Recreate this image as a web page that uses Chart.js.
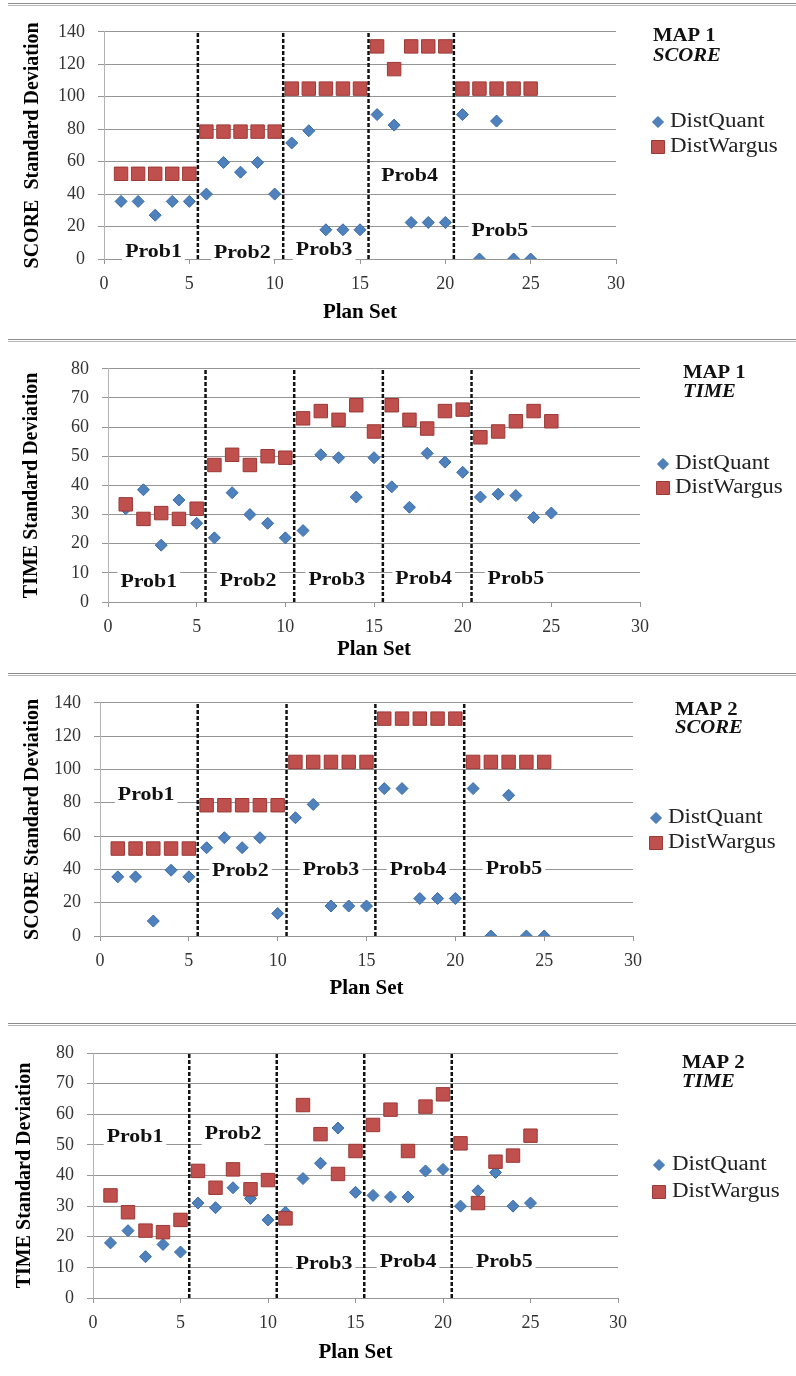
<!DOCTYPE html>
<html>
<head>
<meta charset="utf-8">
<title>Standard Deviation per Plan Set</title>
<script src="https://cdn.jsdelivr.net/npm/chart.js@4.4.0/dist/chart.umd.min.js"></script>
<style>
  body { margin: 0; background: #fff; }
  #page { position: relative; width: 796px; height: 1376px; overflow: hidden; background: #fff; }
  .sep { position: absolute; left: 8px; right: 0; height: 1px; border-top: 1px solid #8c8c8c; border-bottom: 1px solid #b4b4b4; }
  .panel { position: absolute; left: 0; width: 796px; }
  canvas { display: block; }
</style>
</head>
<body>
<div id="page">
  <div class="sep" style="top:3px"></div>
  <div class="panel" style="top:8px"><canvas id="chart1" width="796" height="331"></canvas></div>
  <div class="sep" style="top:339px"></div>
  <div class="panel" style="top:345px"><canvas id="chart2" width="796" height="328"></canvas></div>
  <div class="sep" style="top:673px"></div>
  <div class="panel" style="top:679px"><canvas id="chart3" width="796" height="344"></canvas></div>
  <div class="sep" style="top:1023px"></div>
  <div class="panel" style="top:1029px"><canvas id="chart4" width="796" height="347"></canvas></div>
</div>
<script>
// data
const planSet = [1, 2, 3, 4, 5, 6, 7, 8, 9, 10, 11, 12, 13, 14, 15, 16, 17, 18, 19, 20, 21, 22, 23, 24, 25]
const dividers = [5.5, 10.5, 15.5, 20.5]
const probNames = ['Prob1', 'Prob2', 'Prob3', 'Prob4', 'Prob5']
const seriesNames = ['DistQuant', 'DistWargus']
const xTicks = [0, 5, 10, 15, 20, 25, 30]
const scoreTicks = [0, 20, 40, 60, 80, 100, 120, 140]
const timeTicks = [0, 10, 20, 30, 40, 50, 60, 70, 80]

// MAP 1 SCORE
const quantScore1 = [35.5, 35.5, 27, 35.5, 35.5, 40, 59.5, 53.5, 59.5, 40, 71.5, 79, 18, 18, 18, 89, 82.5, 22.5, 22.5, 22.5, 89, 0, 85, 0, 0]
const wargusScore1 = [52.5, 52.5, 52.5, 52.5, 52.5, 78.5, 78.5, 78.5, 78.5, 78.5, 105, 105, 105, 105, 105, 131, 117, 131, 131, 131, 105, 105, 105, 105, 105]
// MAP 1 TIME
const quantTime1 = [32, 38.5, 19.5, 35, 27, 22, 37.5, 30, 27, 22, 24.5, 50.5, 49.5, 36, 49.5, 39.5, 32.5, 51, 48, 44.5, 36, 37, 36.5, 29, 30.5]
const wargusTime1 = [33.5, 28.5, 30.5, 28.5, 32, 47, 50.5, 47, 50, 49.5, 63, 65.5, 62.5, 67.5, 58.5, 67.5, 62.5, 59.5, 65.5, 66, 56.5, 58.5, 62, 65.5, 62]
// MAP 2 SCORE
const quantScore2 = [35.5, 35.5, 9, 39.5, 35.5, 53, 59, 53, 59, 13.5, 71, 79, 18, 18, 18, 88.5, 88.5, 22.5, 22.5, 22.5, 88.5, 0, 84.5, 0, 0]
const wargusScore2 = [52.5, 52.5, 52.5, 52.5, 52.5, 78.5, 78.5, 78.5, 78.5, 78.5, 104.5, 104.5, 104.5, 104.5, 104.5, 130.5, 130.5, 130.5, 130.5, 130.5, 104.5, 104.5, 104.5, 104.5, 104.5]
// MAP 2 TIME
const quantTime2 = [18, 22, 13.5, 17.5, 15, 31, 29.5, 36, 32.5, 25.5, 28, 39, 44, 55.5, 34.5, 33.5, 33, 33, 41.5, 42, 30, 35, 41, 30, 31]
const wargusTime2 = [33.5, 28, 22, 21.5, 25.5, 41.5, 36, 42, 35.5, 38.5, 26, 63, 53.5, 40.5, 48, 56.5, 61.5, 48, 62.5, 66.5, 50.5, 31, 44.5, 46.5, 53]

// styles
const serif = '"Liberation Serif", "Times New Roman", serif'
const gridColor = '#959595'
const quantColor = '#4F81BD'
const wargusColor = '#C0504D'
const stretch = 1.15   // the source text is a bit wide

// panel layout (page pixels)
const panels = [
    {id: 'chart1', top: 8, h: 331, area: {l: 104, r: 616, t: 23, b: 259}, yTitle: 'SCORE  Standard Deviation', yTitleX: 33, xTitleY: 313,
     ticks: scoreTicks, quant: quantScore1, wargus: wargusScore1,
     probAt: [[2.9, 4], [8.1, 3.5], [12.9, 5.3], [17.9, 51], [23.2, 17]],
     map: ['MAP 1', 'SCORE'], mapX: 653, mapY: [36, 56], legX: 658, legTextX: 670, legY: [122, 147]},
    {id: 'chart2', top: 345, h: 328, area: {l: 108, r: 640, t: 360, b: 602}, yTitle: 'TIME Standard Deviation', yTitleX: 32, xTitleY: 650,
     ticks: timeTicks, quant: quantTime1, wargus: wargusTime1,
     probAt: [[2.3, 6.8], [7.9, 7.2], [12.9, 7.4], [17.8, 7.7], [23.0, 7.9]],
     map: ['MAP 1', 'TIME'], mapX: 683, mapY: [373, 392], legX: 663, legTextX: 675, legY: [464, 488]},
    {id: 'chart3', top: 679, h: 344, area: {l: 100, r: 633, t: 693, b: 936}, yTitle: 'SCORE Standard Deviation', yTitleX: 33, xTitleY: 989,
     ticks: scoreTicks, quant: quantScore2, wargus: wargusScore2,
     probAt: [[2.6, 84.6], [7.9, 38.8], [13.0, 39.4], [17.9, 39.4], [23.3, 40]],
     map: ['MAP 2', 'SCORE'], mapX: 675, mapY: [710, 728], legX: 656, legTextX: 668, legY: [818, 843]},
    {id: 'chart4', top: 1029, h: 347, area: {l: 93, r: 618, t: 1053, b: 1298}, yTitle: 'TIME Standard Deviation', yTitleX: 25, xTitleY: 1353,
     ticks: timeTicks, quant: quantTime2, wargus: wargusTime2,
     probAt: [[2.4, 52.7], [8.0, 53.5], [13.2, 11.2], [18.0, 11.8], [23.5, 11.8]],
     map: ['MAP 2', 'TIME'], mapX: 682, mapY: [1063, 1082], legX: 659, legTextX: 672, legY: [1165, 1192]}
]

// write text a little wider than the font, anchored at (x, y)
function wideText(ctx, text, x, y) {
    ctx.save()
    ctx.translate(x, y)
    ctx.scale(stretch, 1)
    ctx.fillText(text, 0, 0)
    ctx.restore()
}

// Prob labels, map title and legend
const panelText = {
    id: 'panelText',
    beforeDatasetsDraw(chart, args, opt) {
        const {ctx} = chart
        const x = chart.scales.x, y = chart.scales.y
        ctx.save()
        ctx.font = 'bold 19px ' + serif
        ctx.textAlign = 'center'
        ctx.textBaseline = 'middle'
        probNames.forEach(function (name, i) {
            const px = x.getPixelForValue(opt.p.probAt[i][0])
            const py = y.getPixelForValue(opt.p.probAt[i][1])
            const w = ctx.measureText(name).width * stretch
            ctx.fillStyle = '#fff'
            ctx.fillRect(px - w / 2 - 3, py - 11, w + 6, 22)
            ctx.fillStyle = '#111'
            wideText(ctx, name, px, py)
        })
        ctx.restore()
    },
    afterDraw(chart, args, opt) {
        const {ctx} = chart
        const p = opt.p
        ctx.save()
        ctx.textBaseline = 'middle'
        ctx.textAlign = 'left'
        ctx.fillStyle = '#111'
        ctx.font = 'bold 18px ' + serif
        wideText(ctx, p.map[0], p.mapX, p.mapY[0] - p.top)
        ctx.font = 'italic bold 18px ' + serif
        wideText(ctx, p.map[1], p.mapX, p.mapY[1] - p.top)

        ctx.font = '20px ' + serif
        seriesNames.forEach(function (name, i) {
            const ds = chart.data.datasets[i]
            const cy = p.legY[i] - p.top
            ctx.fillStyle = ds.backgroundColor
            ctx.strokeStyle = ds.borderColor
            ctx.lineWidth = 1
            ctx.beginPath()
            if (i === 0) {
                ctx.moveTo(p.legX - 5.5, cy)
                ctx.lineTo(p.legX, cy - 5.5)
                ctx.lineTo(p.legX + 5.5, cy)
                ctx.lineTo(p.legX, cy + 5.5)
                ctx.closePath()
            } else {
                ctx.rect(p.legX - 6.5, cy - 6.5, 13, 13)
            }
            ctx.fill()
            ctx.stroke()
            ctx.fillStyle = '#222'
            wideText(ctx, name, p.legTextX, cy)
        })
        ctx.restore()
    }
}

function points(values) {
    return planSet.map(function (x, i) { return {x: x, y: values[i]} })
}

function makeChart(p) {
    const yMin = p.ticks[0]
    const yMax = p.ticks[p.ticks.length - 1]
    const datasets = [
        {
            label: seriesNames[0],
            data: points(p.quant),
            pointStyle: 'rectRot',
            pointRadius: 6,
            backgroundColor: quantColor,
            borderColor: '#3A6CA8',
            borderWidth: 1,
            order: 2
        },
        {
            label: seriesNames[1],
            data: points(p.wargus),
            pointStyle: 'rect',
            pointRadius: 9.5,
            backgroundColor: wargusColor,
            borderColor: '#9A3936',
            borderWidth: 1,
            order: 1
        }
    ]
    dividers.forEach(function (d) {
        datasets.push({
            label: 'divider',
            data: [{x: d, y: yMin}, {x: d, y: yMax}],
            showLine: true,
            pointRadius: 0,
            borderColor: '#111',
            borderWidth: 2.5,
            borderDash: [4, 2],
            order: 0
        })
    })

    const bottomSpace = p.top + p.h - p.area.b
    new Chart(document.getElementById(p.id).getContext('2d'), {
        type: 'scatter',
        data: {datasets: datasets},
        plugins: [panelText],
        options: {
            responsive: false,
            animation: false,
            layout: {
                padding: {left: 0, top: p.area.t - p.top, right: 796 - p.area.r, bottom: 0}
            },
            plugins: {
                legend: {display: false},
                tooltip: {enabled: false},
                panelText: {p: p}
            },
            scales: {
                x: {
                    type: 'linear',
                    min: xTicks[0],
                    max: xTicks[xTicks.length - 1],
                    afterFit: function (s) { s.height = bottomSpace },
                    ticks: {
                        stepSize: xTicks[1] - xTicks[0],
                        padding: 9,
                        color: '#333',
                        font: {family: serif, size: 18}
                    },
                    grid: {drawOnChartArea: false, tickLength: 5, color: gridColor},
                    border: {color: gridColor},
                    title: {
                        display: true,
                        text: 'Plan Set',
                        color: '#000',
                        font: {family: serif, size: 21, weight: 'bold'},
                        padding: {top: 0, bottom: p.top + p.h - p.xTitleY - 12.6}
                    }
                },
                y: {
                    min: yMin,
                    max: yMax,
                    afterFit: function (s) { s.width = p.area.l },
                    ticks: {
                        stepSize: p.ticks[1] - p.ticks[0],
                        padding: 13,
                        color: '#333',
                        font: {family: serif, size: 18}
                    },
                    grid: {color: gridColor, tickLength: 6},
                    border: {color: '#b4b4b4'},
                    title: {
                        display: true,
                        text: p.yTitle,
                        color: '#000',
                        font: {family: serif, size: 20, weight: 'bold'},
                        padding: {top: p.yTitleX - 12, bottom: 0}
                    }
                }
            }
        }
    })
}

panels.forEach(makeChart)
</script>
</body>
</html>
